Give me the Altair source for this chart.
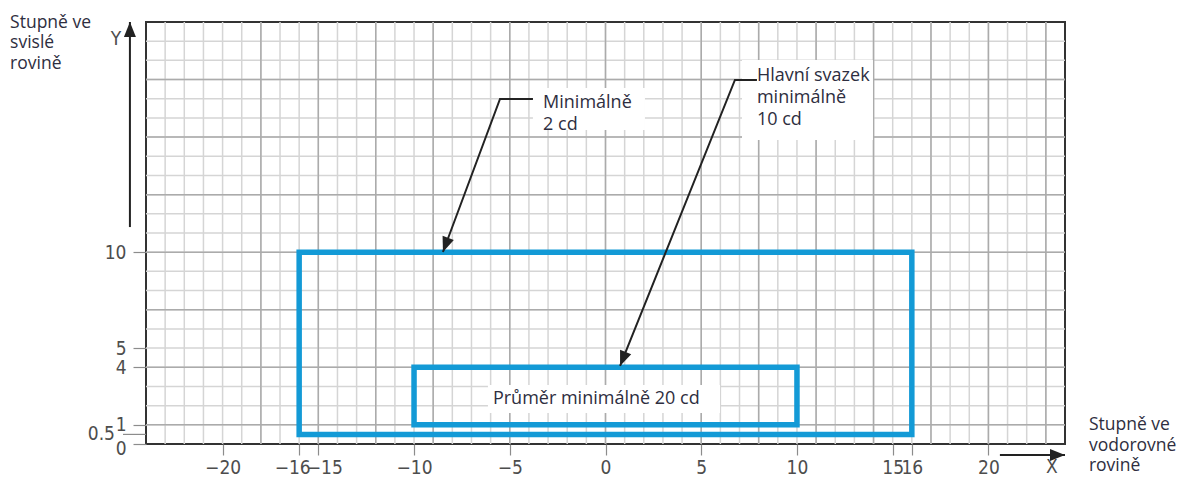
import math
import altair as alt
import pandas as pd

# ---------------- data ----------------
# axis tick values
x_ticks = [-20, -16, -15, -10, -5, 0, 5, 10, 15, 16, 20]
y_ticks = [0, 1, 4, 5, 10]
y_tick_half = [0.5]

# 1-degree grid (inner lines), plus the darker lines
grid_x = list(range(-23, 24))
grid_x_dark = [-18, -15, -12, -9, -5, 0, 5, 8, 11, 14, 17, 20, 23]
grid_y = list(range(1, 22))
grid_y_dark = [1, 4, 7, 10, 13, 16, 19]

# light-distribution zones (degrees)
zone_name = ["Minimálně 2 cd", "Průměr minimálně 20 cd"]
zone_x1 = [-16, -10]
zone_x2 = [16, 10]
zone_y1 = [0.5, 1]
zone_y2 = [10, 4]

# callout texts (anchored in degree coordinates, first line)
callout_text = ["Minimálně\n2 cd", "Hlavní svazek\nminimálně\n10 cd", "Průměr minimálně 20 cd"]
callout_x = [-3.26, 7.91, -5.88]
callout_y = [17.78, 19.18, 2.35]
callout_box_x1 = [-3.79, 7.13, -6.14]
callout_box_x2 = [2.06, 13.97, 5.98]
callout_box_y1 = [16.37, 15.85, 1.62]
callout_box_y2 = [18.56, 20.02, 3.08]

# leader lines and axis arrows (polyline vertices, last one = arrow tip)
arrow_id = ["a", "a", "a", "b", "b", "b", "y", "y", "x", "x"]
arrow_x = [-3.79, -5.51, -8.49, 7.91, 6.76, 0.76, -24.84, -24.84, 20.6, 24.0]
arrow_y = [17.99, 17.99, 10.01, 18.98, 18.98, 4.07, 11.31, 22.0, -0.57, -0.57]

# axis titles and axis letters
axis_title = ["Stupně ve\nsvislé\nrovině", "Stupně ve\nvodorovné\nrovině"]
axis_title_x = [-31.10, 25.25]
axis_title_y = [21.95, 0.99]
axis_letter = ["Y", "X"]
axis_letter_x = [-25.57, 23.32]
axis_letter_y = [21.11, -1.2]
half_label_x = [-25.62]
half_tick_x1 = [-25.2]
half_tick_x2 = [-24.0]

# ---------------- tables ----------------
df_gx = pd.DataFrame({"gx": grid_x})
df_gxd = pd.DataFrame({"gx": grid_x_dark})
df_gy = pd.DataFrame({"gy": grid_y})
df_gyd = pd.DataFrame({"gy": grid_y_dark})
df_zone = pd.DataFrame({"zone": zone_name, "x1": zone_x1, "x2": zone_x2,
                        "y1": zone_y1, "y2": zone_y2})
df_box = pd.DataFrame({"x1": callout_box_x1, "x2": callout_box_x2,
                       "y1": callout_box_y1, "y2": callout_box_y2})
df_call = pd.DataFrame({"t": callout_text, "x": callout_x, "y": callout_y})
order = []
for i, k in enumerate(arrow_id):
    order.append(arrow_id[:i].count(k))
df_arrow = pd.DataFrame({"id": arrow_id, "x": arrow_x, "y": arrow_y, "ord": order})

heads = []
for k in dict.fromkeys(arrow_id):
    pts = [(x, y) for i_, x, y in zip(arrow_id, arrow_x, arrow_y) if i_ == k]
    (x0, y0), (x1, y1) = pts[-2], pts[-1]
    ang = math.degrees(math.atan2(-(x1 - x0), -(y1 - y0))) % 360
    heads.append({"x": x1, "y": y1, "ang": ang})
df_head = pd.DataFrame(heads)

df_title = pd.DataFrame({"t": axis_title, "x": axis_title_x, "y": axis_title_y})
df_letter = pd.DataFrame({"t": axis_letter, "x": axis_letter_x, "y": axis_letter_y})
df_half = pd.DataFrame({"v": y_tick_half, "lx": half_label_x,
                        "x1": half_tick_x1, "x2": half_tick_x2})

# ---------------- styling ----------------
BLUE = "#139ad6"
INK = "#222222"
LABEL_FONT = "Liberation Sans Narrow, Arial Narrow, DejaVu Sans Condensed, sans-serif"
TEXT_FONT = "Open Sans"
LABEL_COLOR = "#4d4d4d"
TEXT_COLOR = "#2e2e40"
TICK_COLOR = "#8c8c8c"

xs = alt.Scale(domain=[-24, 24], nice=False, zero=False)
ys = alt.Scale(domain=[0, 22], nice=False, zero=False)

x_axis = alt.Axis(values=x_ticks, title=None, grid=False, domain=False,
                  tickSize=11, tickColor=TICK_COLOR, tickWidth=1.2,
                  labelFont=LABEL_FONT, labelFontSize=19, labelColor=LABEL_COLOR,
                  labelPadding=3, labelOverlap=False, labelFlush=False,
                  labelOffset={"expr": "datum.value == -16 ? -7 : (datum.value == -15 ? 6 : 0)"})
y_axis = alt.Axis(values=y_ticks, title=None, grid=False, domain=False,
                  tickSize=13, tickColor=TICK_COLOR, tickWidth=1.2,
                  labelFont=LABEL_FONT, labelFontSize=19, labelColor=LABEL_COLOR,
                  labelPadding=7, labelOverlap=False, labelFlush=False,
                  labelOffset={"expr": "datum.value == 0 ? 4 : 0"})

# every layer carries the same axis definition so the shared axes merge cleanly
X = lambda f: alt.X(f, scale=xs, axis=x_axis)
Y = lambda f: alt.Y(f, scale=ys, axis=y_axis)

grid_v = alt.Chart(df_gx).mark_rule(color="#d5d5d5", strokeWidth=1.5).encode(x=X("gx:Q"))
grid_h = alt.Chart(df_gy).mark_rule(color="#d5d5d5", strokeWidth=1.5).encode(y=Y("gy:Q"))
grid_vd = alt.Chart(df_gxd).mark_rule(color="#ababab", strokeWidth=1.5).encode(x=X("gx:Q"))
grid_hd = alt.Chart(df_gyd).mark_rule(color="#ababab", strokeWidth=1.5).encode(y=Y("gy:Q"))

boxes = alt.Chart(df_box).mark_rect(fill="white").encode(
    x=X("x1:Q"), x2="x2:Q", y=Y("y1:Q"), y2="y2:Q")

zones = alt.Chart(df_zone).mark_rect(filled=False, color=BLUE, strokeWidth=5.5,
                                     strokeJoin="miter").encode(
    x=X("x1:Q"), x2="x2:Q", y=Y("y1:Q"), y2="y2:Q")

leaders = alt.Chart(df_arrow).mark_line(color=INK, strokeWidth=2).encode(
    x=X("x:Q"), y=Y("y:Q"), detail="id:N", order="ord:Q")

arrowheads = alt.Chart(df_head).mark_point(
    shape="M0,0L-0.4,-1L0.4,-1Z", filled=True, color=INK, size=900, opacity=1).encode(
    x=X("x:Q"), y=Y("y:Q"), angle=alt.Angle("ang:Q", scale=None))

callouts = alt.Chart(df_call).mark_text(
    align="left", baseline="middle", font=TEXT_FONT, fontSize=18, lineHeight=22,
    lineBreak="\n", color=TEXT_COLOR).encode(x=X("x:Q"), y=Y("y:Q"), text="t:N")

titles = alt.Chart(df_title).mark_text(
    align="left", baseline="middle", font=TEXT_FONT, fontSize=17.5, lineHeight=20.5,
    lineBreak="\n", color=TEXT_COLOR).encode(x=X("x:Q"), y=Y("y:Q"), text="t:N")

letters = alt.Chart(df_letter).mark_text(
    align="center", baseline="middle", font=LABEL_FONT, fontSize=19,
    color=LABEL_COLOR).encode(x=X("x:Q"), y=Y("y:Q"), text="t:N")

half_tick = alt.Chart(df_half).mark_rule(color=TICK_COLOR, strokeWidth=1.2).encode(
    x=X("x1:Q"), x2="x2:Q", y=Y("v:Q"))
half_label = alt.Chart(df_half).mark_text(
    align="right", baseline="middle", font=LABEL_FONT, fontSize=19,
    color=LABEL_COLOR).encode(x=X("lx:Q"), y=Y("v:Q"), text=alt.Text("v:Q", format=".1f"))

chart = alt.layer(
    grid_v, grid_h, grid_vd, grid_hd, boxes, zones, leaders, arrowheads,
    callouts, titles, letters, half_tick, half_label
).properties(
    width=919, height=422,
    autosize=alt.AutoSizeParams(type="none"),
    padding={"left": 138, "top": 14, "right": 112, "bottom": 32},
    background="white",
).configure_view(stroke="#333333", strokeWidth=2)

chart.save("out.html", embed_options={"renderer": "svg", "actions": False})
